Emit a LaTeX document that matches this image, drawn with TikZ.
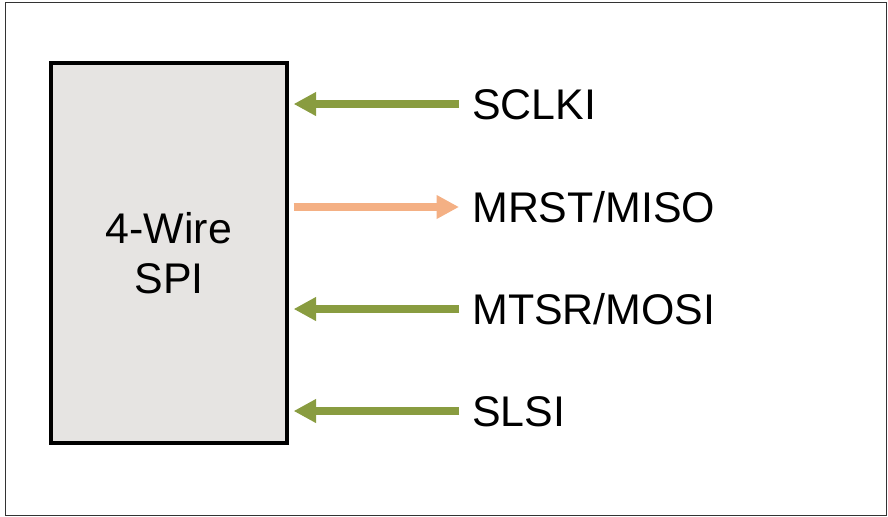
\documentclass[tikz,border=0pt]{standalone}
\usepackage{fontspec}
\setmainfont{Liberation Sans}
\usetikzlibrary{arrows.meta}
\definecolor{wireGreen}{RGB}{137,156,64}
\definecolor{wireOrange}{RGB}{244,176,132}
\definecolor{boxGray}{RGB}{230,228,226}
\begin{document}
\begin{tikzpicture}[x=0.025cm, y=-0.025cm]
            \tikzset{frame/.style={draw=black!80, line width=0.7pt},
                     spibox/.style={draw, fill=boxGray, line width=2.3pt, minimum width=236*0.025cm,
                                    minimum height=380*0.025cm, align=center, font=\fontsize{30.5}{35.5}\selectfont},
                     sig/.style={anchor=west, inner sep=0pt, text height=21.8pt, text depth=0pt,
                                 font=\fontsize{30.5}{35.5}\selectfont},
                     wire/.style={line width=5pt, -{Triangle[length=16pt, width=16pt]}}}
            \useasboundingbox (0,0) rectangle (888,516);
            \draw[frame] (5,2.5) rectangle (886,515);
            \node[spibox] (spi) at (169,253) {4-Wire\\SPI};
            % signal names
            \node[sig] (sclki) at (472,104) {SCLKI};
            \node[sig] (miso) at (472,207) {MRST/MISO};
            \node[sig] (mosi) at (472,309) {MTSR/MOSI};
            \node[sig] (slsi) at (472,411) {SLSI};
            % wires
            \draw[wire, wireGreen] ([xshift=-13*0.025cm]sclki.west) -- ([xshift=5*0.025cm]sclki.west -| spi.east);
            \draw[wire, wireOrange] ([xshift=5*0.025cm]miso.west -| spi.east) -- ([xshift=-13*0.025cm]miso.west);
            \draw[wire, wireGreen] ([xshift=-13*0.025cm]mosi.west) -- ([xshift=5*0.025cm]mosi.west -| spi.east);
            \draw[wire, wireGreen] ([xshift=-13*0.025cm]slsi.west) -- ([xshift=5*0.025cm]slsi.west -| spi.east);
        \end{tikzpicture}
\end{document}
